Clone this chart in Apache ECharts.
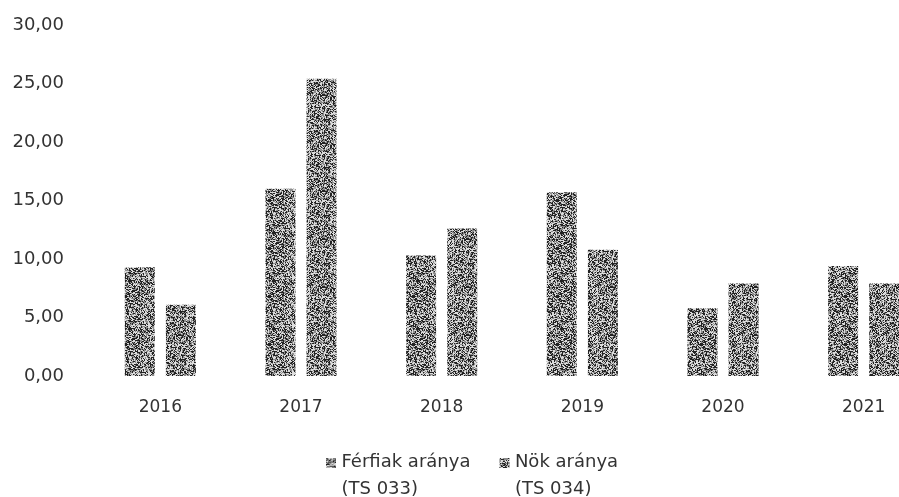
<!DOCTYPE html>
<html>
<head>
<meta charset="utf-8">
<script src="https://cdn.jsdelivr.net/npm/echarts@6/dist/echarts.min.js"></script>
<style>
  html, body { margin: 0; padding: 0; background: #fff; }
  #chart { width: 899px; height: 497px; }
</style>
</head>
<body>
<div id="chart"></div>
<script>
var years = ['2016', '2017', '2018', '2019', '2020', '2021'];
var ferfiak = [9.3, 16.0, 10.3, 15.7, 5.8, 9.4];
var nok = [6.1, 25.4, 12.6, 10.8, 7.9, 7.9];
var seriesNames = ['Férfiak aránya\n(TS 033)', 'Nök aránya\n(TS 034)'];
var yTicks = { min: 0, max: 30, interval: 5 };

// scanned-looking dithered grey fill
function makeTexture(seed) {
  var c = document.createElement('canvas');
  c.width = 48;
  c.height = 48;
  var ctx = c.getContext('2d');
  var s = seed;
  function rnd() {
    s = (s * 1103515245 + 12345) % 2147483648;
    return s / 2147483648;
  }
  ctx.fillStyle = '#dcdcdc';
  ctx.fillRect(0, 0, 48, 48);
  for (var y = 0; y < 48; y++) {
    for (var x = 0; x < 48; x++) {
      var r = rnd();
      if (r < 0.36) {
        ctx.fillStyle = '#222';
        ctx.fillRect(x, y, 1, 1);
      } else if (r < 0.66) {
        ctx.fillStyle = '#8c8c8c';
        ctx.fillRect(x, y, 1, 1);
      }
    }
  }
  return c;
}

var myChart = echarts.init(document.getElementById('chart'));

var textColor = '#333';
var font = 'DejaVu Sans';

var option = {
  animation: false,
  grid: {
    left: 90,
    width: 844,
    top: 25,
    bottom: 121,
    outerBoundsMode: 'none',
  },
  legend: {
    left: 326,
    top: 449,
    padding: 0,
    itemGap: 29,
    itemWidth: 11,
    itemHeight: 36,
    icon: 'path://M0,0h10v10h-10z M0,35.99h0.01v0.01h-0.01z',
    textStyle: {
      color: textColor,
      fontFamily: font,
      fontSize: 18,
      lineHeight: 27,
    },
  },
  xAxis: {
    type: 'category',
    data: years,
    axisLine: { show: false },
    axisTick: { show: false },
    axisLabel: {
      color: textColor,
      fontFamily: font,
      fontSize: 17,
      margin: 23,
    },
  },
  yAxis: {
    type: 'value',
    min: yTicks.min,
    max: yTicks.max,
    interval: yTicks.interval,
    splitLine: { show: false },
    axisLine: { show: false },
    axisTick: { show: false },
    axisLabel: {
      color: textColor,
      fontFamily: font,
      fontSize: 18,
      margin: 26,
      formatter: function (v) {
        return v.toFixed(2).replace('.', ',');
      },
    },
  },
  series: [
    {
      name: seriesNames[0],
      type: 'bar',
      barWidth: 30,
      barGap: '37%',
      data: ferfiak,
      itemStyle: { color: { image: makeTexture(7), repeat: 'repeat' } },
    },
    {
      name: seriesNames[1],
      type: 'bar',
      barWidth: 30,
      barGap: '37%',
      data: nok,
      itemStyle: { color: { image: makeTexture(91), repeat: 'repeat' } },
    },
  ],
};

myChart.setOption(option);
</script>
</body>
</html>
